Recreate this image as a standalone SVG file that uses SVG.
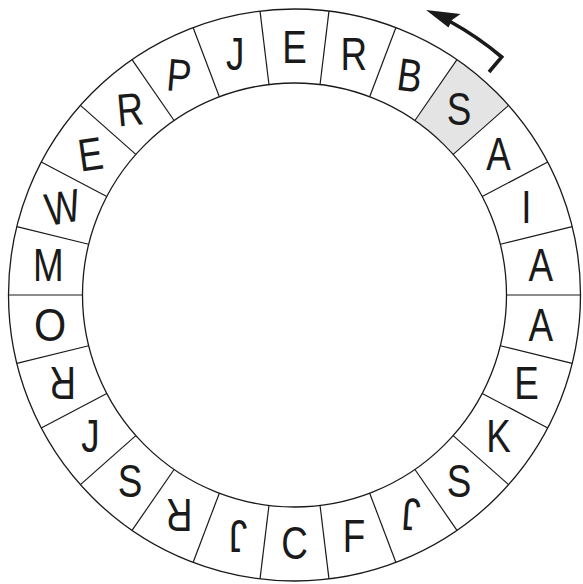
<svg xmlns="http://www.w3.org/2000/svg" width="583" height="584" viewBox="0 0 583 584">
<style>
.ring{fill:none;stroke:#1a1a1a;stroke-width:1.3}
.div{stroke:#1a1a1a;stroke-width:1.2}
.lt{font-family:"Liberation Sans","DejaVu Sans",sans-serif;font-size:46px;fill:#1a1a1a;text-anchor:middle;dominant-baseline:central}
</style>
<rect width="583" height="584" fill="#ffffff"/>
<g id="highlight">
<path d="M453.18,154.42 L508.57,105.35 A286,286 0 0 0 456.97,59.63 L414.93,120.53 A212,212 0 0 1 453.18,154.42 Z" fill="#e4e4e4" stroke="#ffffff" stroke-width="1.5"/>
</g>
<g id="rings">
<circle class="ring" cx="294.5" cy="295" r="286"/>
<circle class="ring" cx="294.5" cy="295" r="212"/>
</g>
<g id="dividers">
<line class="div" x1="506.5" y1="295" x2="580.5" y2="295"/>
<line class="div" x1="82.5" y1="295" x2="8.5" y2="295"/>
<line class="div" x1="500.34" y1="244.26" x2="572.19" y2="226.55"/>
<line class="div" x1="88.66" y1="345.74" x2="16.81" y2="363.45"/>
<line class="div" x1="482.22" y1="196.48" x2="547.74" y2="162.09"/>
<line class="div" x1="106.78" y1="393.52" x2="41.26" y2="427.91"/>
<line class="div" x1="453.18" y1="154.42" x2="508.57" y2="105.35"/>
<line class="div" x1="135.82" y1="435.58" x2="80.43" y2="484.65"/>
<line class="div" x1="414.93" y1="120.53" x2="456.97" y2="59.63"/>
<line class="div" x1="174.07" y1="469.47" x2="132.03" y2="530.37"/>
<line class="div" x1="369.68" y1="96.78" x2="395.92" y2="27.58"/>
<line class="div" x1="219.32" y1="493.22" x2="193.08" y2="562.42"/>
<line class="div" x1="320.05" y1="84.55" x2="328.97" y2="11.08"/>
<line class="div" x1="268.95" y1="505.45" x2="260.03" y2="578.92"/>
<line class="div" x1="268.95" y1="84.55" x2="260.03" y2="11.08"/>
<line class="div" x1="320.05" y1="505.45" x2="328.97" y2="578.92"/>
<line class="div" x1="219.32" y1="96.78" x2="193.08" y2="27.58"/>
<line class="div" x1="369.68" y1="493.22" x2="395.92" y2="562.42"/>
<line class="div" x1="174.07" y1="120.53" x2="132.03" y2="59.63"/>
<line class="div" x1="414.93" y1="469.47" x2="456.97" y2="530.37"/>
<line class="div" x1="135.82" y1="154.42" x2="80.43" y2="105.35"/>
<line class="div" x1="453.18" y1="435.58" x2="508.57" y2="484.65"/>
<line class="div" x1="106.78" y1="196.48" x2="41.26" y2="162.09"/>
<line class="div" x1="482.22" y1="393.52" x2="547.74" y2="427.91"/>
<line class="div" x1="88.66" y1="244.26" x2="16.81" y2="226.55"/>
<line class="div" x1="500.34" y1="345.74" x2="572.19" y2="363.45"/>
</g>
<g id="letters">
<text class="lt" transform="translate(540.7 265.1) scale(0.8 1)">A</text>
<text class="lt" transform="translate(526.4 207.1) scale(0.8 1)">I</text>
<text class="lt" transform="translate(498.6 154.1) scale(0.8 1)">A</text>
<text class="lt" transform="translate(459.0 109.4) scale(0.8 1)">S</text>
<text class="lt" transform="translate(409.8 75.4) rotate(8) scale(0.8 1)">B</text>
<text class="lt" transform="translate(353.9 54.2) scale(0.8 1)">R</text>
<text class="lt" transform="translate(294.5 47) scale(0.8 1)">E</text>
<text class="lt" transform="translate(235.1 54.2) scale(0.8 1)">J</text>
<text class="lt" transform="translate(179.2 75.4) rotate(5) scale(0.8 1)">P</text>
<text class="lt" transform="translate(130.0 109.4) rotate(-5) scale(0.8 1)">R</text>
<text class="lt" transform="translate(90.4 154.1) rotate(-8) scale(0.8 1)">E</text>
<text class="lt" transform="translate(62.6 207.1) rotate(-10) scale(0.8 1)">W</text>
<text class="lt" transform="translate(48.3 265.1) scale(0.8 1)">M</text>
<text class="lt" transform="translate(50 324.9) scale(0.9 1)">O</text>
<text class="lt" transform="translate(62.6 382.9) rotate(180) scale(0.8 1)">R</text>
<text class="lt" transform="translate(90.4 435.9) scale(0.8 1)">J</text>
<text class="lt" transform="translate(130.0 480.6) scale(0.8 1)">S</text>
<text class="lt" transform="translate(179.2 514.6) rotate(180) scale(0.8 1)">R</text>
<text class="lt" transform="translate(238 535.8) rotate(180) scale(0.8 1)">J</text>
<text class="lt" transform="translate(294.5 543) scale(0.8 1)">C</text>
<text class="lt" transform="translate(353.9 535.8) scale(0.8 1)">F</text>
<text class="lt" transform="translate(411 514.6) rotate(184) scale(0.8 1)">J</text>
<text class="lt" transform="translate(459.0 480.6) scale(0.8 1)">S</text>
<text class="lt" transform="translate(498.6 435.9) scale(0.8 1)">K</text>
<text class="lt" transform="translate(526.4 382.9) scale(0.8 1)">E</text>
<text class="lt" transform="translate(540.7 324.9) scale(0.8 1)">A</text>
</g>
<g id="connectors">
<path d="M489,72 L501.7,57 A315,315 0 0 0 450,21.5" fill="none" stroke="#1a1a1a" stroke-width="3.6" stroke-linejoin="miter"/>
<path d="M426,10 L460.5,14 L452,20 L448.5,27.5 Z" fill="#1a1a1a"/>
</g>
</svg>
